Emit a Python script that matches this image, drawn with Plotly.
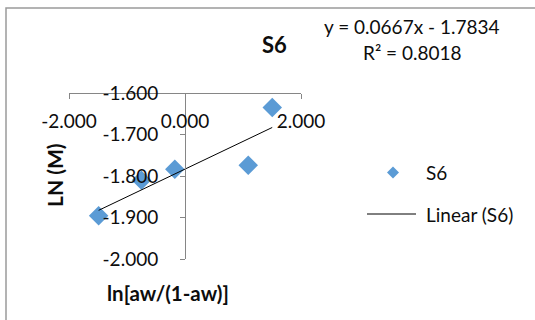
import plotly.graph_objects as go

# ---- data ----
x_vals = [-1.489, -0.751, -0.176, 1.090, 1.504]
y_vals = [-1.896, -1.810, -1.784, -1.774, -1.635]
series_name = "S6"
trend_slope = 0.0667
trend_intercept = -1.7834
r_squared = 0.8018
x_ticks = [-2.0, 0.0, 2.0]
y_ticks = [-2.0, -1.9, -1.8, -1.7, -1.6]

# ---- layout constants (pixels) ----
W, H = 535, 320
L, R, T, B = 69, 301, 93, 259          # plot-area edges
PW, PH = R - L, B - T
FONT = "Lato"
TXT = "#0d0d0d"
AX = "#868686"
BLUE = "#5B9BD5"


def px(xp):
    return (xp - L) / PW


def py(yp):
    return (B - yp) / PH


x_fit = [min(x_vals), max(x_vals)]
y_fit = [trend_slope * v + trend_intercept for v in x_fit]

fig = go.Figure()
fig.add_trace(go.Scatter(
    x=x_vals, y=y_vals, mode="markers", name=series_name,
    marker=dict(symbol="diamond", size=15, color=BLUE, line=dict(width=0)),
    showlegend=False,
))
fig.add_trace(go.Scatter(
    x=x_fit, y=y_fit, mode="lines", name=f"Linear ({series_name})",
    line=dict(color="#000000", width=1), showlegend=False,
))

fig.update_layout(
    width=W, height=H,
    margin=dict(l=L, r=W - R, t=T, b=H - B, autoexpand=False),
    paper_bgcolor="white", plot_bgcolor="white",
    font=dict(family=FONT, size=19, color=TXT),
    showlegend=False,
    xaxis=dict(
        range=[-2, 2], domain=[0, 1], anchor="free", position=1, side="bottom",
        showgrid=False, zeroline=False, showline=True, linecolor=AX, linewidth=1,
        ticks="outside", ticklen=5, tickcolor=AX, tickwidth=1,
        tickvals=x_ticks, ticktext=[f"{v:.3f}" for v in x_ticks],
        ticklabelstandoff=6,
        tickfont=dict(family=FONT, size=19, color=TXT),
    ),
    yaxis=dict(
        range=[-2.0, -1.6], domain=[0, 1], anchor="free", position=0.5, side="left",
        showgrid=False, zeroline=False, showline=True, linecolor=AX, linewidth=1,
        ticks="outside", ticklen=5, tickcolor=AX, tickwidth=1,
        tickvals=y_ticks, ticktext=[f"{v:.3f}" for v in y_ticks],
        ticklabelstandoff=18,
        tickfont=dict(family=FONT, size=19, color=TXT),
    ),
)

# chart-area border (top & left visible)
fig.add_shape(type="rect", xref="paper", yref="paper",
              x0=px(6), x1=px(W + 20), y0=py(H + 20), y1=py(8),
              line=dict(color="#9a9a9a", width=1.5), fillcolor="rgba(0,0,0,0)",
              layer="below")

ann = []
ann.append(dict(text="<b>S6</b>", x=px(274), y=py(45), font=dict(size=22)))
ann.append(dict(text=f"y = {trend_slope:.4f}x - {abs(trend_intercept):.4f}",
                x=px(412), y=py(26), font=dict(size=19)))
ann.append(dict(text=f"R² = {r_squared:.4f}", x=px(412), y=py(52.5), font=dict(size=19)))
ann.append(dict(text="<b>LN (M)</b>", x=px(54.5), y=py(175.5), textangle=-90,
                font=dict(size=21)))
ann.append(dict(text="<b>ln[aw/(1-aw)]</b>", x=px(168), y=py(292.5), font=dict(size=20.5)))
# legend texts
ann.append(dict(text=series_name, x=px(424), y=py(172.5), xanchor="left",
                font=dict(size=19)))
ann.append(dict(text=f"Linear ({series_name})", x=px(424), y=py(214), xanchor="left",
                font=dict(size=19)))
for a in ann:
    a.setdefault("xanchor", "center")
    a.update(xref="paper", yref="paper", yanchor="middle", showarrow=False)
    a["font"].update(family=FONT, color=TXT)
    fig.add_annotation(**a)

# legend symbols
fig.add_shape(type="path", xref="paper", yref="paper",
              xsizemode="pixel", ysizemode="pixel",
              xanchor=px(393), yanchor=py(172.5),
              path="M -6 0 L 0 6 L 6 0 L 0 -6 Z",
              fillcolor=BLUE, line=dict(width=0))
fig.add_shape(type="line", xref="paper", yref="paper",
              x0=px(367), x1=px(416), y0=py(214), y1=py(214),
              line=dict(color="#000000", width=1))

fig.write_html("out.html", config={"displayModeBar": False},
               post_script="document.body.style.margin='0';")
